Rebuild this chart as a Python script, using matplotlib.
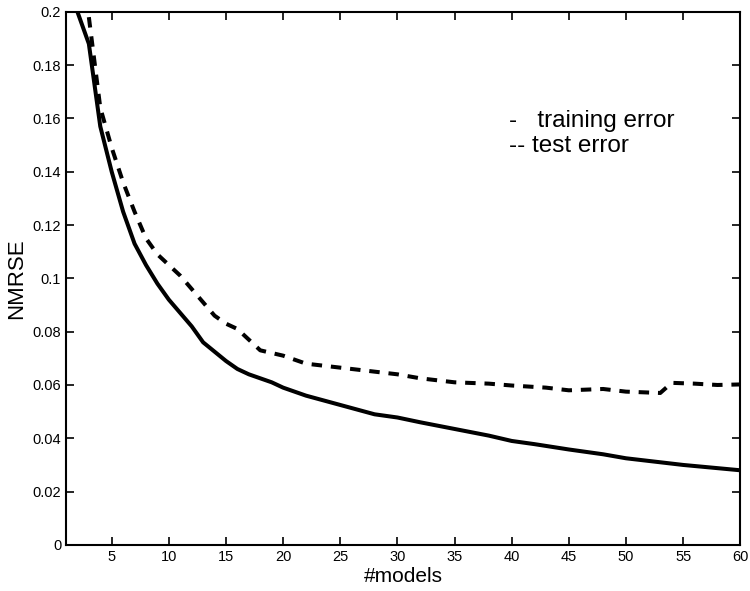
import numpy as np
import matplotlib
matplotlib.use('Agg')
import matplotlib.pyplot as plt

plt.rcParams['font.family'] = ['Liberation Sans', 'DejaVu Sans']

# training error (solid)
x_train = [2, 3, 4, 5, 6, 7, 8, 9, 10, 11, 12, 13, 14, 15, 16, 17, 18, 19, 20,
           22, 25, 28, 30, 32, 35, 38, 40, 42, 45, 48, 50, 52, 55, 58, 60]
y_train = [0.200, 0.188, 0.157, 0.140, 0.125, 0.113, 0.105, 0.098, 0.092, 0.087,
           0.082, 0.076, 0.0725, 0.069, 0.066, 0.064, 0.0625, 0.061, 0.059,
           0.056, 0.0525, 0.049, 0.0478, 0.046, 0.0435, 0.041, 0.039, 0.0378,
           0.0358, 0.034, 0.0325, 0.0315, 0.030, 0.0288, 0.028]

# test error (dashed)
x_test = [3, 4, 5, 6, 7, 8, 9, 10, 11, 12, 13, 14, 15, 16, 17, 18, 19, 20,
          22, 25, 28, 30, 32, 35, 38, 40, 43, 45, 48, 50, 53, 54, 56, 58, 60]
y_test = [0.198, 0.164, 0.149, 0.136, 0.125, 0.115, 0.109, 0.105, 0.101, 0.096,
          0.091, 0.086, 0.083, 0.081, 0.077, 0.073, 0.072, 0.071, 0.068, 0.0665,
          0.065, 0.064, 0.0625, 0.061, 0.0605, 0.0598, 0.059, 0.058, 0.0585,
          0.0575, 0.057, 0.0608, 0.0605, 0.060, 0.0602]

xticks = [5, 10, 15, 20, 25, 30, 35, 40, 45, 50, 55, 60]
yticks = [0, 0.02, 0.04, 0.06, 0.08, 0.1, 0.12, 0.14, 0.16, 0.18, 0.2]
ytick_labels = ['0', '0.02', '0.04', '0.06', '0.08', '0.1', '0.12', '0.14',
                '0.16', '0.18', '0.2']

fig = plt.figure(figsize=(7.5, 5.91), dpi=100)
ax = fig.add_axes([0.088, 0.078, 0.899, 0.902])

ax.plot(x_train, y_train, color='black', lw=2.9)
ax.plot(x_test, y_test, color='black', lw=2.9, linestyle=(0, (2.6, 2.2)))

ax.set_xlim(1, 60)
ax.set_ylim(0, 0.2)
ax.set_xticks(xticks)
ax.set_yticks(yticks)
ax.set_yticklabels(ytick_labels)
ax.tick_params(direction='in', length=6, width=1.2, top=True, right=True,
               labelsize=10.5)
for s in ax.spines.values():
    s.set_linewidth(1.5)

ax.set_xlabel('#models', fontsize=15, labelpad=2)
ax.set_ylabel('NMRSE', fontsize=16, labelpad=4)

ax.text(39.8, 0.159, '-   training error', fontsize=17.5, va='center', ha='left')
ax.text(39.8, 0.1497, '-- test error', fontsize=17.5, va='center', ha='left')

fig.savefig('out.png', dpi=100)
